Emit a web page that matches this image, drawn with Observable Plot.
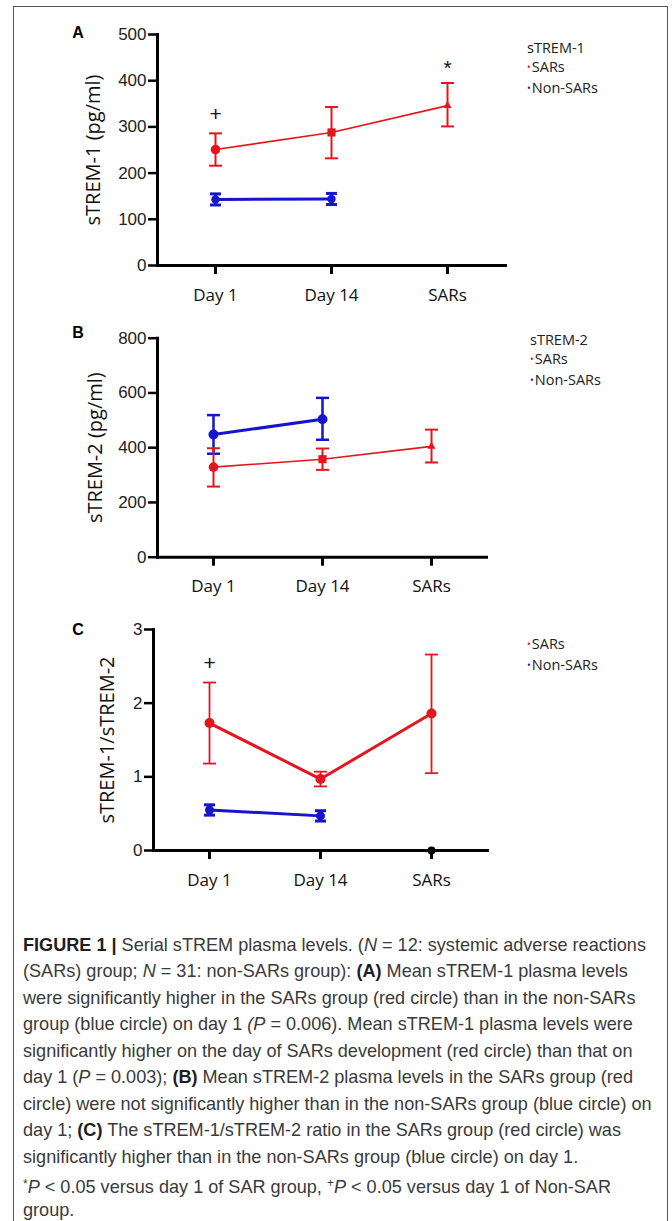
<!DOCTYPE html>
<html>
<head>
<meta charset="utf-8">
<script src="https://cdn.jsdelivr.net/npm/d3@7"></script>
<script src="https://cdn.jsdelivr.net/npm/@observablehq/plot@0.6"></script>
<style>
  html, body { margin: 0; padding: 0; background: #fff; }
  #page { position: relative; width: 672px; height: 1221px; overflow: hidden; background: #fff; }
  .border { position: absolute; left: 13px; top: 6px; width: 655px; height: 1230px; border: 1px solid #555; border-bottom: none; box-sizing: border-box; }
  .panel { position: absolute; left: 0; }
  .panel svg { overflow: visible; background: transparent; }
  .letter { position: absolute; font: bold 16px "Liberation Sans", Arial, sans-serif; color: #000; transform: translate(-50%, -50%); }
  .legend { position: absolute; font: 14.5px "Open Sans", sans-serif; color: #222; line-height: 19px; white-space: nowrap; }
  .legend .b { font-size: 10px; position: relative; top: -1px; margin-right: 1px; }
  .caption { position: absolute; left: 23px; top: 931.5px; font: 18.1px "Liberation Sans", Arial, sans-serif; color: #3a3a3a; line-height: 26.5px; white-space: nowrap; }
  .caption b { color: #1e1e1e; }
</style>
</head>
<body>
<div id="page">
  <div class="border"></div>
</div>
<script>
// ---------- data ----------
const days = ["Day 1", "Day 14", "SARs"];

// Panel A: sTREM-1 (pg/ml)
const aSarsMean = [251, 288, 346];
const aSarsLow  = [216, 232, 301];
const aSarsHigh = [286, 343, 395];
const aNonMean  = [143, 144];
const aNonLow   = [131, 132];
const aNonHigh  = [155, 156];
const aTicks    = [0, 100, 200, 300, 400, 500];
const aNotes    = [{day: "Day 1", value: 327, label: "+"}, {day: "SARs", value: 427, label: "*"}];

// Panel B: sTREM-2 (pg/ml)
const bSarsMean = [329, 358, 405];
const bSarsLow  = [258, 319, 346];
const bSarsHigh = [398, 397, 466];
const bNonMean  = [448, 504];
const bNonLow   = [378, 429];
const bNonHigh  = [519, 582];
const bTicks    = [0, 200, 400, 600, 800];

// Panel C: sTREM-1/sTREM-2
const cSarsMean = [1.73, 0.97, 1.86];
const cSarsLow  = [1.18, 0.87, 1.05];
const cSarsHigh = [2.28, 1.07, 2.66];
const cNonMean  = [0.55, 0.47];
const cNonLow   = [0.48, 0.40];
const cNonHigh  = [0.62, 0.54];
const cTicks    = [0, 1, 2, 3];
const cNotes    = [{day: "Day 1", value: 2.54, label: "+"}];
const cZero     = [{day: "SARs", value: 0}];

// ---------- styles ----------
const RED = "#e3161d", BLUE = "#1515c9";
const capSymbol = { draw(ctx, size) { const w = Math.sqrt(size / Math.PI); ctx.moveTo(-w, 0); ctx.lineTo(w, 0); } };

function rows(mean, lo, hi, symbols, sizes) {
  return mean.map((m, i) => ({day: days[i], mean: m, lo: lo[i], hi: hi[i], symbol: symbols[i], r: sizes[i]}));
}

function seriesMarks(data, color, st) {
  return [
    Plot.ruleX(data, {x: "day", y1: "lo", y2: "hi", stroke: color, strokeWidth: st.err}),
    Plot.dot(data, {x: "day", y: "lo", symbol: capSymbol, r: st.cap, stroke: color, fill: "none", strokeWidth: st.err}),
    Plot.dot(data, {x: "day", y: "hi", symbol: capSymbol, r: st.cap, stroke: color, fill: "none", strokeWidth: st.err}),
    Plot.line(data, {x: "day", y: "mean", stroke: color, strokeWidth: st.line}),
    Plot.dot(data, {x: "day", y: "mean", symbol: "symbol", r: "r", fill: color, stroke: "none"})
  ];
}

function panel(cfg) {
  const extra = cfg.extra || [];
  const chart = Plot.plot({
    width: 672, height: cfg.height,
    marginTop: cfg.mt, marginBottom: cfg.mb, marginLeft: cfg.ml, marginRight: cfg.mr,
    x: {type: "point", domain: days, range: cfg.xRange, padding: 0},
    y: {domain: cfg.yDomain},
    r: {type: "identity"},
    style: {background: "transparent", overflow: "visible"},
    marks: [
      Plot.axisY({ticks: cfg.yTicks, tickFormat: d => String(d), tickSize: 9, tickPadding: 2, strokeWidth: 2.5, stroke: "#000", fill: "#222", fontSize: 17, fontFamily: "Liberation Sans", label: null}),
      Plot.axisX({tickSize: 9, tickPadding: 14, strokeWidth: 3, stroke: "#000", fill: "#111", fontSize: 17, fontFamily: "Open Sans", label: null}),
      Plot.frame({anchor: "left", strokeWidth: 3, stroke: "#000"}),
      Plot.frame({anchor: "bottom", strokeWidth: 3, stroke: "#000"}),
      Plot.text([cfg.yTitle], {frameAnchor: "left", textAnchor: "middle", dx: cfg.titleDx, rotate: -90, fontSize: 20, fontFamily: "Open Sans", fill: "#111"}),
      ...seriesMarks(cfg.non, BLUE, cfg.nonStyle),
      ...seriesMarks(cfg.sars, RED, cfg.sarsStyle),
      ...(cfg.notes ? [Plot.text(cfg.notes, {x: "day", y: "value", text: "label", fontSize: 21, fontFamily: "Liberation Sans", fill: "#111"})] : []),
      ...extra
    ]
  });
  const wrap = document.createElement("div");
  wrap.className = "panel";
  wrap.style.top = cfg.top + "px";
  wrap.appendChild(chart);
  document.getElementById("page").appendChild(wrap);
}

panel({
  top: 0, height: 320, mt: 34, mb: 55, ml: 157, mr: 167, xRange: [214, 447],
  yDomain: [0, 500], yTicks: aTicks, yTitle: "sTREM-1 (pg/ml)", titleDx: -64,
  sars: rows(aSarsMean, aSarsLow, aSarsHigh, ["circle", "square", "triangle"], [4.8, 4.6, 3]),
  non: rows(aNonMean, aNonLow, aNonHigh, ["circle", "circle"], [4.2, 4.2]),
  sarsStyle: {line: 1.6, err: 2, cap: 6.5},
  nonStyle: {line: 3, err: 3, cap: 5.5},
  notes: aNotes
});

panel({
  top: 310, height: 300, mt: 27.7, mb: 53.3, ml: 157, mr: 186, xRange: [212, 431],
  yDomain: [0, 800], yTicks: bTicks, yTitle: "sTREM-2 (pg/ml)", titleDx: -62,
  sars: rows(bSarsMean, bSarsLow, bSarsHigh, ["circle", "square", "triangle"], [4.8, 4.6, 3]),
  non: rows(bNonMean, bNonLow, bNonHigh, ["circle", "circle"], [5, 5]),
  sarsStyle: {line: 1.6, err: 2, cap: 6.5},
  nonStyle: {line: 3, err: 2.5, cap: 6.5}
});

panel({
  top: 610, height: 300, mt: 19, mb: 60, ml: 153, mr: 185, xRange: [208, 431],
  yDomain: [0, 3], yTicks: cTicks, yTitle: "sTREM-1/sTREM-2", titleDx: -46,
  sars: rows(cSarsMean, cSarsLow, cSarsHigh, ["circle", "circle", "circle"], [5, 5, 5]),
  non: rows(cNonMean, cNonLow, cNonHigh, ["circle", "circle"], [4.5, 4.5]),
  sarsStyle: {line: 3, err: 1.8, cap: 6.5},
  nonStyle: {line: 3, err: 3, cap: 5.5},
  notes: cNotes,
  extra: [Plot.dot(cZero, {x: "day", y: "value", r: 4, fill: "#000"})]
});

// ---------- labels, legends, caption ----------
const page = document.getElementById("page");
function addLetter(t, x, y) {
  const d = document.createElement("div"); d.className = "letter"; d.textContent = t;
  d.style.left = x + "px"; d.style.top = y + "px"; page.appendChild(d);
}
addLetter("A", 78, 33); addLetter("B", 78, 333); addLetter("C", 78, 630);

function addLegend(x, yFirst, title) {
  const d = document.createElement("div"); d.className = "legend";
  d.style.left = x + "px"; d.style.top = (yFirst - 9.5) + "px";
  d.innerHTML = (title ? `<div>${title}</div>` : "") +
    `<div><span class="b" style="color:${RED}">•</span>SARs</div>` +
    `<div><span class="b" style="color:${BLUE}">•</span>Non-SARs</div>`;
  page.appendChild(d);
}
addLegend(527, 47, "sTREM-1");
addLegend(530, 339, "sTREM-2");
addLegend(527, 643, null);

const captionLines = [
  `<b>FIGURE 1 |</b> Serial sTREM plasma levels. (<i>N</i> = 12: systemic adverse reactions`,
  `(SARs) group; <i>N</i> = 31: non-SARs group): <b>(A)</b> Mean sTREM-1 plasma levels`,
  `were significantly higher in the SARs group (red circle) than in the non-SARs`,
  `group (blue circle) on day 1 <i>(P</i> = 0.006). Mean sTREM-1 plasma levels were`,
  `significantly higher on the day of SARs development (red circle) than that on`,
  `day 1 (<i>P</i> = 0.003); <b>(B)</b> Mean sTREM-2 plasma levels in the SARs group (red`,
  `circle) were not significantly higher than in the non-SARs group (blue circle) on`,
  `day 1; <b>(C)</b> The sTREM-1/sTREM-2 ratio in the SARs group (red circle) was`,
  `significantly higher than in the non-SARs group (blue circle) on day 1.`,
  `<span style="font-size:12px;vertical-align:5px">*</span><i>P</i> &lt; 0.05 versus day 1 of SAR group, <span style="font-size:12px;vertical-align:6px">+</span><i>P</i> &lt; 0.05 versus day 1 of Non-SAR`,
  `group.`
];
const cap = document.createElement("div"); cap.className = "caption";
cap.innerHTML = captionLines.map(l => `<div style="height:26.5px">${l}</div>`).join("");
page.appendChild(cap);
</script>
</body>
</html>
